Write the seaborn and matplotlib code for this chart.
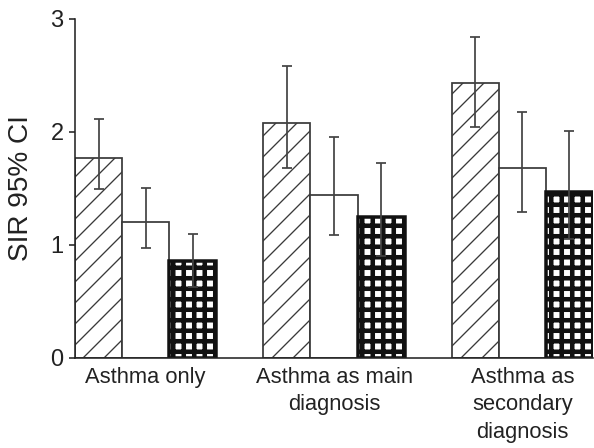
import numpy as np
import pandas as pd
import matplotlib
matplotlib.use("Agg")
import matplotlib.pyplot as plt
import seaborn as sns

# values
groups = ["Asthma only", "Asthma as main\ndiagnosis", "Asthma as\nsecondary\ndiagnosis"]
series = ["A", "B", "C"]
sir_a = [1.77, 2.08, 2.43]
sir_b = [1.20, 1.44, 1.68]
sir_c = [0.86, 1.25, 1.47]
lo_a = [1.49, 1.68, 2.04]
hi_a = [2.11, 2.58, 2.84]
lo_b = [0.97, 1.09, 1.29]
hi_b = [1.50, 1.95, 2.17]
lo_c = [0.63, 0.90, 1.05]
hi_c = [1.10, 1.72, 2.01]

df = pd.DataFrame({
    "group": groups * 3,
    "series": np.repeat(series, 3),
    "sir": sir_a + sir_b + sir_c,
})
lows = [lo_a, lo_b, lo_c]
highs = [hi_a, hi_b, hi_c]
vals = [sir_a, sir_b, sir_c]

sns.set_style("ticks")
plt.rcParams["font.family"] = ["Liberation Sans", "DejaVu Sans"]

DPI = 126
fig = plt.figure(figsize=(594 / DPI, 448 / DPI), dpi=DPI)
ax = fig.add_axes([0.1263, 0.2009, 0.8720, 0.7578])

sns.barplot(data=df, x="group", y="sir", hue="series", order=groups,
            hue_order=series, width=0.75, gap=0,
            palette=["white", "white", "white"], edgecolor="#3a3a3a",
            linewidth=1.0, errorbar=None, legend=False, ax=ax)

# hatched / plain / cross-grid bars
hatches = ["//", "", "++"]
edges = ["#3a3a3a", "#3a3a3a", "#111111"]
hatch_lw = [0.75, 0.75, 2.6]
bar_sets = list(ax.containers)
for i, cont in enumerate(bar_sets):
    for bar in cont:
        bar.set_hatch(hatches[i])
        bar.set_edgecolor(edges[i])
        if i == 2:
            bar.set_linewidth(2.0)
        try:
            bar.set_hatch_linewidth(hatch_lw[i])
        except AttributeError:
            pass
    xs = [b.get_x() + b.get_width() / 2 for b in cont]
    v = np.array(vals[i])
    yerr = [v - np.array(lows[i]), np.array(highs[i]) - v]
    ax.errorbar(xs, v, yerr=yerr, fmt="none", ecolor="#444444",
                elinewidth=1.0, capsize=2.6, capthick=1.0, zorder=3)

ax.set_xlim(-0.375, 2.375)
ax.set_ylim(0, 3)
ax.set_yticks([0, 1, 2, 3])
ax.set_xlabel("")
ax.set_ylabel("SIR 95% CI", fontsize=16, color="#222222")
ax.yaxis.set_label_coords(-0.08, 0.5)
ax.tick_params(axis="y", labelsize=13.5, length=3.5, width=0.9,
               colors="#222222", pad=3)
ax.tick_params(axis="x", labelsize=12.5, length=0, pad=5, colors="#222222")
for lab in ax.get_xticklabels():
    lab.set_linespacing(1.4)
sns.despine(ax=ax)
for s in ["left", "bottom"]:
    ax.spines[s].set_linewidth(0.9)
    ax.spines[s].set_color("#222222")

fig.savefig("out.png", dpi=DPI)
